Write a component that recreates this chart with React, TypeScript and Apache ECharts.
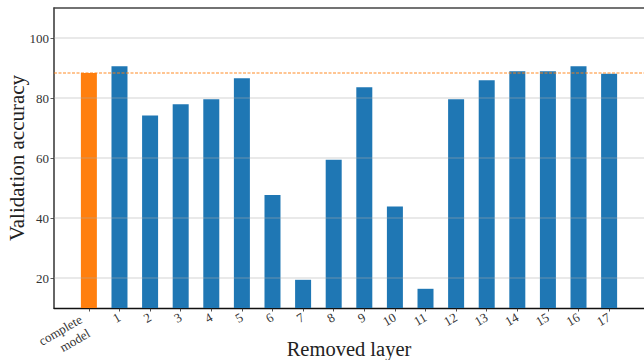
import React, { useEffect, useRef } from "react";
import * as echarts from "echarts";

// Validation accuracy after removing each layer, compared with the complete model
const categories = [
  "complete\nmodel",
  "1", "2", "3", "4", "5", "6", "7", "8", "9",
  "10", "11", "12", "13", "14", "15", "16", "17",
];
const accuracy = [
  88.3, 90.6, 74.2, 77.9, 79.6, 86.6, 47.7, 19.4, 59.4,
  83.6, 43.8, 16.4, 79.6, 85.9, 88.9, 88.9, 90.6, 88.1,
];
const yTicks = [20, 40, 60, 80, 100];

const BLUE = "#1f77b4";
const ORANGE = "#ff7f0e";
const FONT = "Liberation Serif";

// Multi-line tick labels get a small lead line and right padding so the
// rotated block hangs below and left of its tick.
function tickLabel(v: number): string {
  const name = categories[Math.round(v)] ?? "";
  if (!name.includes("\n")) return name;
  return ["{s| }", ...name.split("\n").map((line) => `{m|${line}}`)].join("\n");
}

export default function App() {
  const ref = useRef<HTMLDivElement>(null);

  useEffect(() => {
    if (!ref.current) return;
    const chart = echarts.init(ref.current, undefined, { renderer: "svg" });
    const positions = categories.map((_, i) => i);

    chart.setOption({
      animation: false,
      backgroundColor: "#ffffff",
      textStyle: { fontFamily: FONT },
      grid: {
        left: 54,
        right: 0,
        top: 8,
        bottom: 52,
        outerBoundsMode: "none",
        containLabel: false,
      },
      xAxis: [
        {
          type: "value",
          min: -1.14,
          max: 18.14,
          splitLine: { show: false },
          axisLine: {
            show: true,
            onZero: false,
            lineStyle: { color: "#111", width: 1.3 },
          },
          axisTick: {
            show: true,
            customValues: positions,
            length: 3.5,
            lineStyle: { color: "#222", width: 0.8 },
          },
          axisLabel: {
            customValues: positions,
            formatter: tickLabel,
            rotate: 30,
            margin: 8,
            fontSize: 13,
            lineHeight: 15,
            color: "#333",
            fontFamily: FONT,
            rich: {
              s: { lineHeight: 12, fontSize: 6, fontFamily: FONT },
              m: {
                lineHeight: 16,
                fontSize: 13,
                color: "#333",
                fontFamily: FONT,
                padding: [0, 8, 0, 0],
              },
            },
          },
          name: "Removed layer",
          nameLocation: "middle",
          nameGap: 30,
          nameMoveOverlap: false,
          nameTextStyle: { fontSize: 20.5, color: "#222", fontFamily: FONT },
        },
        {
          type: "value",
          position: "top",
          min: -1.14,
          max: 18.14,
          splitLine: { show: false },
          axisTick: { show: false },
          axisLabel: { show: false },
          axisLine: {
            show: true,
            onZero: false,
            lineStyle: { color: "#444", width: 1.5 },
          },
        },
      ],
      yAxis: {
        type: "value",
        min: 10,
        max: 110,
        splitLine: { show: false },
        axisLine: {
          show: true,
          onZero: false,
          lineStyle: { color: "#333", width: 1.5 },
        },
        axisTick: {
          show: true,
          customValues: yTicks,
          length: 3.5,
          lineStyle: { color: "#333", width: 0.8 },
        },
        axisLabel: {
          customValues: yTicks,
          margin: 5,
          fontSize: 13,
          color: "#333",
          fontFamily: FONT,
        },
        name: "Validation accuracy",
        nameLocation: "middle",
        nameGap: 27,
        nameMoveOverlap: false,
        nameTextStyle: { fontSize: 21, color: "#222", fontFamily: FONT },
      },
      series: [
        {
          type: "bar",
          xAxisIndex: 0,
          barWidth: 16,
          data: accuracy.map((v, i) => ({
            value: [i, v],
            itemStyle: { color: i === 0 ? ORANGE : BLUE },
          })),
          markLine: {
            silent: true,
            symbol: ["none", "none"],
            label: { show: false },
            data: [
              ...yTicks.map((v) => ({
                yAxis: v,
                lineStyle: {
                  color: "rgba(170,170,170,0.35)",
                  width: 1.5,
                  type: "solid",
                },
              })),
              {
                yAxis: accuracy[0],
                lineStyle: {
                  color: "rgba(255,127,14,0.6)",
                  width: 1.5,
                  type: [3, 1.5],
                },
              },
            ],
          },
        },
      ],
    });

    return () => chart.dispose();
  }, []);

  return (
    <div
      ref={ref}
      style={{ position: "fixed", left: 0, top: 0, width: 644, height: 360 }}
    />
  );
}
